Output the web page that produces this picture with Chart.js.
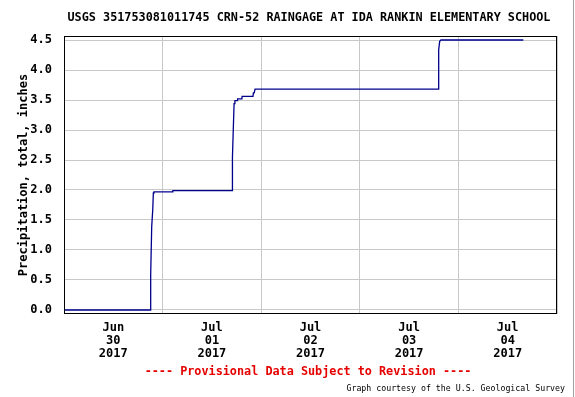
<!DOCTYPE html>
<html>
<head>
<meta charset="utf-8">
<script src="https://cdn.jsdelivr.net/npm/chart.js@4"></script>
<style>
  body { margin: 0; background: #fff; }
  #wrap { position: relative; width: 575px; height: 397px; overflow: hidden; }
  .txt { position: absolute; font-family: "DejaVu Sans Mono", monospace; white-space: pre; line-height: 1; }
  #title { left: 309px; top: 18px; transform: translate(-50%, -50%); font-size: 11.8px; font-weight: bold; color: #000; }
  #prov { left: 308px; top: 372px; transform: translate(-50%, -50%); font-size: 11.8px; font-weight: bold; color: #e60000; }
  #credit { right: 10px; top: 388px; transform: translateY(-50%); font-size: 8.25px; color: #000; }
  #edge { position: absolute; left: 573px; top: 0; width: 1px; height: 397px; background: #a0a0a0; }
</style>
</head>
<body>
<div id="wrap">
  <canvas id="myChart" width="575" height="397"></canvas>
  <div class="txt" id="title">USGS 351753081011745 CRN-52 RAINGAGE AT IDA RANKIN ELEMENTARY SCHOOL</div>
  <div class="txt" id="prov">---- Provisional Data Subject to Revision ----</div>
  <div class="txt" id="credit">Graph courtesy of the U.S. Geological Survey</div>
  <div id="edge"></div>
</div>
<script>
// hours since Jun 30 2017 00:00
var hours = [0, 21.0, 21.1, 21.35, 21.6, 21.75, 21.9, 26.4, 26.5,
  40.95, 41.0, 41.2, 41.4, 41.6, 42.2, 42.25, 43.3, 43.35,
  46.0, 46.1, 46.3, 46.5, 91.15, 91.2, 91.45, 91.75, 111.8];
// cumulative precipitation, inches
var precip = [0, 0, 0.59, 1.39, 1.67, 1.95, 1.97, 1.97, 1.99,
  1.99, 2.54, 3.0, 3.44, 3.49, 3.49, 3.52, 3.52, 3.56,
  3.56, 3.62, 3.62, 3.68, 3.68, 4.34, 4.48, 4.5, 4.5];

// x tick labels sit at noon of each day
var tickHours = [12, 36, 60, 84, 108];
var tickMonths = ["Jun", "Jul", "Jul", "Jul", "Jul"];
var tickDays = ["30", "01", "02", "03", "04"];
var tickYears = ["2017", "2017", "2017", "2017", "2017"];

var monoBold = { family: "'DejaVu Sans Mono', monospace", size: 12, weight: "bold" };

var points = [];
for (var i = 0; i < hours.length; i++) {
  points.push({ x: hours[i], y: precip[i] });
}

// black box round the plot area
var frame = {
  id: "frame",
  afterDraw: function(chart) {
    var a = chart.chartArea;
    var c = chart.ctx;
    c.save();
    c.strokeStyle = "#000";
    c.lineWidth = 1;
    c.strokeRect(Math.round(a.left) + 0.5, Math.round(a.top) + 0.5,
      Math.round(a.right - a.left) - 1, Math.round(a.bottom - a.top) - 1);
    c.restore();
  }
};

var ctx = document.getElementById("myChart");

var myChart = new Chart(ctx, {
  type: "line",
  data: {
    datasets: [{
      data: points,
      borderColor: "#00008c",
      borderWidth: 1.3,
      pointRadius: 0,
      tension: 0,
      fill: false
    }]
  },
  options: {
    responsive: false,
    animation: false,
    layout: { padding: { top: 36, right: 18, left: 0, bottom: 0 } },
    plugins: {
      legend: { display: false },
      tooltip: { enabled: false },
      title: { display: false }
    },
    scales: {
      x: {
        type: "linear",
        min: 0,
        max: 120,
        afterFit: function(scale) { scale.height = 83; },
        ticks: {
          stepSize: 12,
          autoSkip: false,
          maxRotation: 0,
          padding: 8,
          color: "#000",
          font: { family: monoBold.family, size: 12, weight: "bold", lineHeight: 1.05 },
          callback: function(value) {
            var k = tickHours.indexOf(value);
            if (k < 0) return "";
            return [tickMonths[k], tickDays[k], tickYears[k]];
          }
        },
        grid: {
          drawTicks: false,
          color: function(c) {
            if (c.tick && c.tick.value % 24 === 0) return "#c8c8c8";
            return "rgba(0,0,0,0)";
          }
        },
        border: { display: false }
      },
      y: {
        min: -0.067,
        max: 4.567,
        afterFit: function(scale) { scale.width = 64; },
        ticks: {
          stepSize: 0.5,
          includeBounds: false,
          padding: 12,
          color: "#000",
          font: monoBold,
          callback: function(v) { return v.toFixed(1); }
        },
        grid: { drawTicks: false, color: "#c8c8c8" },
        border: { display: false },
        title: {
          display: true,
          text: "Precipitation, total, inches",
          color: "#000",
          font: monoBold,
          padding: { top: 17, bottom: 0 }
        }
      }
    }
  },
  plugins: [frame]
});
</script>
</body>
</html>
